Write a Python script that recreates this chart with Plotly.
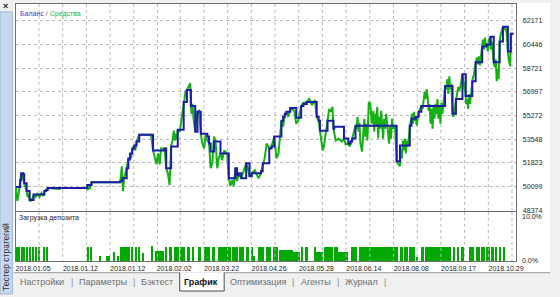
import plotly.graph_objects as go

W, H = 560, 297

# ---------------- data ----------------
# Balance: trade number where balance changes, new balance value
bal_trade = [0, 4.5, 5.5, 7.5, 8.5, 11, 14, 18, 29, 30.7, 32.3, 72.3, 76.7, 105.7, 108, 112.3, 114, 115.7, 118, 120,
             122.3, 125, 139, 150.7, 152.3, 157.3, 164, 170, 173.3, 177.3, 181.7, 184, 187.3, 194, 195.7, 197.3, 200.7, 207.3, 215.7, 222.3,
             224, 225.7, 228.3, 233.3, 236.7, 239, 248.3, 250, 256.7, 259, 261.7, 269, 270.7, 272.3, 274, 278, 284, 289, 291.3, 294.7,
             304.7, 306.7, 308, 315.7, 321.7, 322.5, 332.3, 336.7, 339, 340.7, 344, 385.7, 389, 399, 400.7, 405, 408, 410.7, 434.7, 442.3,
             445.7, 452.3, 455.7, 462.3, 465.7, 472.3, 476.7, 480.7, 484, 490, 493.3, 498.3, 501.3, 504]
bal_value = [50068, 50572, 51077, 51005, 50356, 49779, 49131, 49527, 49779, 49852, 49996, 50212, 50428, 50500, 50716, 51437, 52158, 52518, 52878, 53095,
             53383, 53887, 52734, 52878, 51437, 53023, 54248, 56266, 57131, 55978, 54104, 55545, 53960, 53743, 53239, 52662, 53383, 52518, 50716, 51437,
             50932, 51077, 50716, 51797, 50861, 51077, 51221, 51797, 52878, 53023, 53743, 54896, 55185, 55401, 55545, 55833, 55112, 55978, 56122, 56266,
             55185, 54896, 54176, 54896, 54320, 54464, 53599, 53239, 53383, 53599, 54536, 51942, 53095, 54536, 55041, 55185, 55545, 55978, 57419, 55401,
             56482, 58284, 56698, 57779, 59149, 60302, 60446, 61022, 59149, 60662, 61743, 59941, 61239, 61239]

# Equity: trade number, equity value
eq_trade = [0, 1.5, 3, 4.5, 5.5, 7, 8.5, 11, 12, 13, 14, 15, 17, 18, 20, 22, 24, 26, 28, 29, 31, 32.3, 44, 46, 72, 73, 74, 75, 76.7,
            105, 106, 107.3, 108.5, 109.7, 111, 112.3, 114, 115.5, 117, 118, 120, 121, 122.3, 125, 137, 139, 141, 142.5, 144, 145.7, 147,
            150.7, 152.3, 154, 155.7, 156.5, 157.3, 159, 160, 161, 162, 163, 164, 166, 168, 170, 171, 172, 173.3, 174.5, 176.7, 177.3, 178,
            179, 180, 181.7, 182.5, 184, 185.5, 187.3, 188, 189, 190.7, 192.3, 194, 195.7, 197.3, 199, 200.7, 202.3, 204, 205.5, 207.3, 209,
            211, 214, 215.7, 217.3, 219, 220.7, 222.3, 224, 225.7, 228.3, 230, 233.3, 235, 236.7, 239, 242, 245.7, 248, 250.7, 252, 254,
            256.7, 259, 261.7, 264, 266, 269, 270.7, 272, 274, 276, 278, 282, 284, 286, 289, 291, 294.7, 297, 300, 303, 304.7, 306.7, 308,
            310.7, 312, 314, 315.7, 317.3, 319, 320.7, 321.7, 324, 327, 330, 332.3, 334, 336.7, 338, 340.7, 344, 345, 346, 347, 348, 349,
            350.7, 352, 353, 354, 355, 356, 357.5, 359, 360.5, 362, 363, 364, 365, 366, 367, 368, 369, 370, 371, 372, 373, 374, 375, 377,
            378, 379, 380, 381, 382, 384, 385.7, 387, 389, 390, 391, 392, 393, 394, 395, 396, 397.3, 399, 400.7, 401, 402, 403, 404, 405,
            406, 407, 408, 410.7, 412, 414, 415, 416, 417, 418, 419, 420, 421, 422, 423, 424, 425, 426, 427, 428, 429, 430, 431, 432,
            434.7, 436, 437, 438, 439, 440, 441, 442.3, 443, 444, 445.7, 447, 448, 449, 450.7, 452.3, 453, 454, 455.7, 456, 457, 458, 459,
            460, 461, 462.3, 463, 464, 465.7, 467, 468, 469, 470, 471, 472.3, 473, 474, 475, 476, 477, 478, 479, 480.7, 481, 482, 483, 484,
            485, 486, 487, 488, 489, 490, 491, 492, 493.3, 495, 496, 497, 498.3, 499, 500.7, 501.3, 504]
eq_value = [50068, 49059, 49635, 50572, 51077, 50861, 50356, 49779, 49347, 49563, 49131, 49059, 49275, 49491, 49347, 49563, 49347, 49635, 49419, 49779, 49852, 49996, 49924, 49996, 49996, 49852, 50212, 49924, 50428,
            50428, 50500, 51581, 49779, 50716, 51005, 51437, 52158, 52014, 52302, 52878, 53095, 52734, 53383, 53887, 53887, 52734, 52158, 51725, 52518, 51725, 52878,
            52878, 51437, 51077, 50212, 51437, 53023, 53599, 54176, 53455, 53960, 53527, 54248, 54104, 55041, 56266, 56482, 57059, 57131, 57347, 57635, 55978, 55401,
            56122, 55041, 54104, 54680, 55545, 55617, 53960, 53599, 53239, 52878, 53887, 53455, 53239, 51437, 51797, 53743, 53383, 51437, 52158, 52518, 52014,
            52734, 52518, 50716, 50140, 50572, 50140, 51437, 50500, 51005, 50716, 51077, 51797, 51437, 50861, 51077, 51293, 50716, 51005, 51797, 52158, 53239,
            52878, 53023, 53743, 52158, 52518, 54896, 54464, 55185, 55545, 55185, 55833, 55617, 54680, 54896, 55978, 56194, 56266, 56482, 56050, 56410, 55185, 54896, 54176,
            52734, 53023, 54176, 54896, 55761, 55545, 55905, 54320, 53455, 53599, 53383, 53599, 53167, 53239, 53023, 53599, 54536, 54320, 55185, 54104, 54752, 53239,
            52662, 54176, 55041, 53743, 54680, 53455, 56266, 56122, 54680, 55617, 54104, 55401, 54464, 55905, 53599, 55185, 54320, 55617, 54680, 53599, 55041, 54320, 55401, 54104,
            53239, 54464, 53599, 55041, 54320, 54536, 51942, 51797, 51581, 52878, 52158, 53455, 52734, 53599, 52518, 53455, 53023, 54536, 55041, 55401, 54680, 55545, 54896, 55185,
            54536, 55041, 55545, 55978, 55761, 56986, 56482, 57203, 56698, 55617, 56122, 54680, 55761, 54320, 55905, 55041, 56122, 55401, 56482, 55041, 55978, 54680, 56194, 55401,
            57419, 57203, 57923, 56842, 58140, 57203, 57563, 55401, 55185, 55617, 56482, 56842, 57347, 57059, 57563, 58284, 57923, 57203, 56698, 56122, 56482, 55761, 56842,
            56122, 57059, 57779, 58068, 58284, 59149, 59509, 59004, 59581, 58932, 59653, 60302, 60806, 60085, 60950, 60302, 60518, 59941, 60806, 61022, 60085, 60662, 59581, 59149,
            58788, 59365, 57779, 58644, 57923, 60662, 61167, 61527, 61743, 61527, 61671, 61311, 59941, 59365, 58860, 61239, 61239]

# Deposit load (%): blocks of trades with open positions
load_start = [0, 2.7, 5.7, 8, 10.7, 13.7, 16.7, 19.7, 22.7, 28, 30.7, 72, 75.3, 84.7, 91.3, 99, 102.3, 105.3, 117.3, 120.7,
              123.7, 128, 137.3, 140.7, 151.3, 155.3, 159.7, 166.3, 173, 178, 184.7, 190.7, 198, 204.7, 218.7, 226.3, 233, 238, 240.7, 244.7,
              253, 260.7, 266.7, 274.7, 280.7, 289, 292.3, 302.3, 304, 312.3, 322.3, 325.7, 339, 347.3, 389, 393, 398, 402, 404.7, 410,
              414, 442.3, 446.7, 450.7, 459, 465.7, 471, 476, 481, 485, 489, 493.3]
load_end = [2, 4, 6.7, 9, 12, 14.7, 18, 20.7, 23.7, 29, 32.3, 73.3, 77, 85.7, 95.3, 100.7, 104, 115.3, 118.7, 122,
            125.3, 129, 138.3, 149.7, 153, 158, 164.7, 171.3, 176.3, 180.7, 187.3, 196.3, 202, 218, 224.7, 231.3, 236.3, 239.7, 242.3, 251.3,
            258, 265.7, 274, 280, 287.3, 290.7, 295.7, 304, 310.7, 320.7, 325.7, 335.7, 345.7, 387.3, 392, 397, 401, 404, 407.3, 413.3,
            440.7, 444.7, 449, 454, 464, 470, 475, 480, 484, 487.3, 491.3, 494.7]
load_pct = [3.0, 3.0, 3.0, 3.0, 3.0, 3.0, 3.0, 3.0, 3.0, 3.0, 3.0, 3.0, 3.0, 1.1, 1.1, 2.0, 1.1, 3.0, 3.0, 3.0,
            3.0, 1.8, 3.1, 2.1, 3.0, 3.0, 3.0, 3.0, 3.0, 3.0, 3.0, 3.0, 3.0, 3.0, 3.0, 3.0, 3.0, 3.0, 1.1, 3.0,
            3.0, 3.0, 2.3, 2.3, 2.0, 3.0, 3.0, 3.0, 2.0, 3.0, 3.0, 2.0, 3.0, 3.0, 3.0, 3.0, 3.0, 3.0, 0.9, 3.0,
            3.0, 3.0, 3.0, 3.0, 3.0, 3.0, 3.0, 3.0, 3.0, 3.0, 3.0, 3.0]

y_ticks = [48374, 50099, 51823, 53548, 55272, 56997, 58721, 60446, 62171]
date_labels = ['2018.01.05', '2018.01.12', '2018.01.12', '2018.02.02', '2018.03.22', '2018.04.26',
               '2018.05.28', '2018.06.14', '2018.08.08', '2018.09.17', '2018.10.29']
tabs = ['Настройки', 'Параметры', 'Бэктест', 'График', 'Оптимизация', 'Агенты', 'Журнал']

# vertical grid: one line every ~24 trades; date label on every second line
grid_ticks = [23.5, 47.5, 71.5, 95.5, 119.5, 143.5, 166.5, 190.5, 214.5, 238.5, 262.5, 286.5, 310.5,
              334.5, 358.5, 382.5, 406.5, 430.5, 454.5, 478.5, 502.5]
grid_text = [date_labels[k // 2] if k % 2 == 0 else '' for k in range(len(grid_ticks))]

# ---------------- styling ----------------
FONT = 'Liberation Sans, Arial, sans-serif'
BLUE = '#1c1ca8'
GREEN = '#14b014'
BAR = '#03a903'
GRID = '#b8b8b8'
FRAME = '#6e6e6e'
Y1 = [48338, 63401]
Y2 = [0, 10]


def px(x):
    return x / W


def py(y):
    return 1 - y / H


def vgrid(lo, hi):
    xs, ys = [], []
    for g in grid_ticks:
        xs += [g, g, None]
        ys += [hi, lo, None]
    return xs, ys


fig = go.Figure()
# vertical dotted grid lines through both panels (drawn under the data)
gx, gy = vgrid(*Y1)
fig.add_trace(go.Scatter(x=gx, y=gy, mode='lines', line=dict(color=GRID, width=1, dash='dot'),
                         xaxis='x', yaxis='y', hoverinfo='skip', connectgaps=False))
gx2, gy2 = vgrid(*Y2)
fig.add_trace(go.Scatter(x=gx2, y=gy2, mode='lines', line=dict(color=GRID, width=1, dash='dot'),
                         xaxis='x2', yaxis='y2', hoverinfo='skip', connectgaps=False))

fig.add_trace(go.Scatter(x=eq_trade, y=eq_value, mode='lines', line=dict(color=GREEN, width=2),
                         xaxis='x', yaxis='y', hoverinfo='skip'))
fig.add_trace(go.Scatter(x=bal_trade, y=bal_value, mode='lines', line=dict(color=BLUE, width=2, shape='hv'),
                         xaxis='x', yaxis='y', hoverinfo='skip'))
centers = [(a + b) / 2 for a, b in zip(load_start, load_end)]
widths = [b - a for a, b in zip(load_start, load_end)]
fig.add_trace(go.Bar(x=centers, y=load_pct, width=widths, marker=dict(color=BAR, line=dict(width=0)),
                     xaxis='x2', yaxis='y2', hoverinfo='skip'))

xdom = [px(16), px(523)]
common_x = dict(domain=xdom, range=[0, 507], showline=True, mirror=True, linecolor=FRAME, linewidth=1,
                zeroline=False, tickmode='array', tickvals=grid_ticks, showgrid=False, ticks='', fixedrange=True)

fig.update_layout(
    width=W, height=H, margin=dict(l=0, r=0, t=0, b=0),
    paper_bgcolor='#f0f0f0', plot_bgcolor='white', showlegend=False,
    font=dict(family=FONT, size=7, color='#1e1e1e'),
    bargap=0,
    xaxis=dict(anchor='y', showticklabels=False, **common_x),
    xaxis2=dict(anchor='y2', ticktext=grid_text, showticklabels=True, ticklabelshift=-6,
                tickfont=dict(size=7, color='#1e1e1e'), **common_x),
    yaxis=dict(domain=[py(213), py(4)], range=Y1, side='right', anchor='x',
               tickvals=y_ticks, ticktext=[str(v) for v in y_ticks], tickfont=dict(size=7, color='#1e1e1e'),
               showgrid=True, gridcolor=GRID, griddash='dot', gridwidth=1, zeroline=False,
               showline=True, mirror=True, linecolor=FRAME, linewidth=1, ticks='', ticklabelstandoff=4,
               fixedrange=True),
    yaxis2=dict(domain=[py(264), py(214)], range=Y2, side='right', anchor='x2',
                showticklabels=False, showgrid=False, zeroline=False,
                showline=True, mirror=True, linecolor=FRAME, linewidth=1, ticks='', fixedrange=True),
)

shapes = []
shapes.append(dict(type='rect', xref='paper', yref='paper', x0=px(14), x1=px(557), y0=py(275.5), y1=py(3),
                   fillcolor='white', line=dict(width=0), layer='below'))
shapes.append(dict(type='rect', xref='paper', yref='paper', x0=0, x1=px(12.5), y0=0, y1=py(12),
                   fillcolor='#c6d8ee', line=dict(color='#9fb6d4', width=1), layer='below'))
shapes.append(dict(type='line', xref='paper', yref='paper', x0=px(14), x1=px(557), y0=py(275.5), y1=py(275.5),
                   line=dict(color='#9a9a9a', width=1)))
shapes.append(dict(type='rect', xref='paper', yref='paper', x0=px(182), x1=px(227), y0=py(294), y1=py(275),
                   fillcolor='white', line=dict(width=0)))
shapes.append(dict(type='path', xref='paper', yref='paper',
                   path=f'M{px(182)},{py(275.5)} L{px(182)},{py(294)} L{px(227)},{py(294)} L{px(227)},{py(275.5)}',
                   line=dict(color='#4a4a4a', width=1)))
fig.update_layout(shapes=shapes)

ann = []
ann.append(dict(xref='paper', yref='paper', x=px(18), y=py(14), xanchor='left', yanchor='middle', showarrow=False,
                text="<span style='color:#3a3ac4'>Баланс</span><span style='color:#808080'> / </span>"
                     "<span style='color:#2cb82c'>Средства</span>", font=dict(size=7)))
ann.append(dict(xref='paper', yref='paper', x=px(17.5), y=py(220.5), xanchor='left', yanchor='middle', showarrow=False,
                text='Загрузка депозита', font=dict(size=7, color='#1e1e1e')))
ann.append(dict(xref='paper', yref='paper', x=px(527), y=py(218.3), xanchor='left', yanchor='middle', showarrow=False,
                text='10.0%', font=dict(size=7, color='#1e1e1e')))
ann.append(dict(xref='paper', yref='paper', x=px(527), y=py(263.6), xanchor='left', yanchor='middle', showarrow=False,
                text='0.0%', font=dict(size=7, color='#1e1e1e')))
ann.append(dict(xref='paper', yref='paper', x=px(6.7), y=py(260), xanchor='center', yanchor='middle', showarrow=False,
                text='Тестер стратегий', textangle=-90, font=dict(size=8.5, color='#303030')))
ann.append(dict(xref='paper', yref='paper', x=px(5.5), y=py(6.5), xanchor='center', yanchor='middle', showarrow=False,
                text='<b>×</b>', font=dict(size=9, color='#202020')))

tab_x = [43, 104.5, 159, 203.7, 262, 320.5, 366.5]
for name, cx in zip(tabs, tab_x):
    bold = name == 'График'
    ann.append(dict(xref='paper', yref='paper', x=px(cx), y=py(284.5), xanchor='center', yanchor='middle',
                    showarrow=False, text=f'<b>{name}</b>' if bold else name,
                    font=dict(size=9, color='#111111' if bold else '#6f6f6f')))
for sx in [72.7, 136, 297, 342.7, 390]:
    ann.append(dict(xref='paper', yref='paper', x=px(sx), y=py(284.5), xanchor='center', yanchor='middle',
                    showarrow=False, text='|', font=dict(size=9, color='#8a8a8a')))
fig.update_layout(annotations=ann)

fig.write_html('out.html')
